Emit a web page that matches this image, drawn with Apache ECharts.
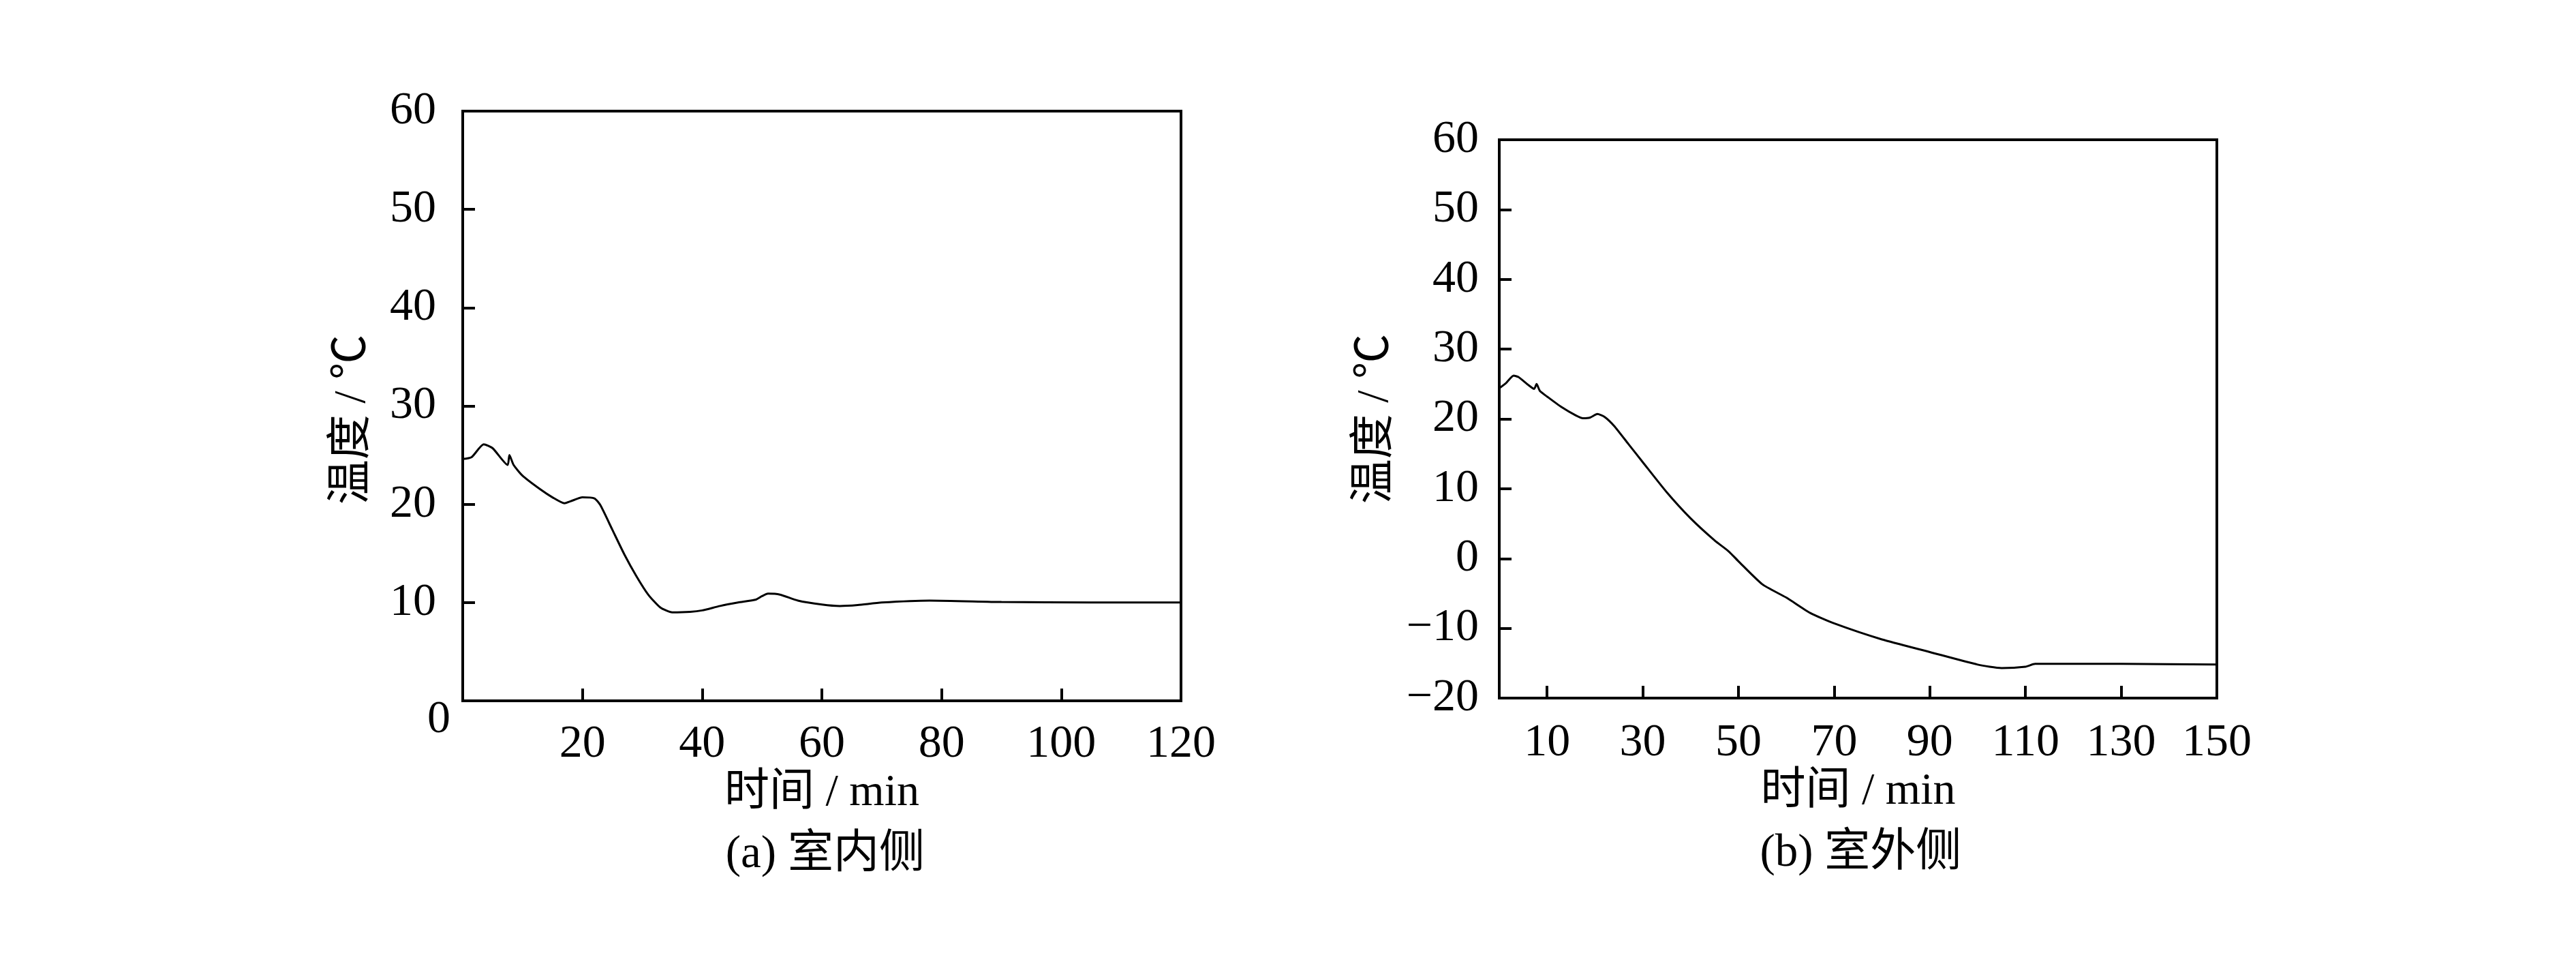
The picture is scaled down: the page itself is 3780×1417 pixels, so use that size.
<!DOCTYPE html>
<html>
<head>
<meta charset="utf-8">
<script src="https://cdn.jsdelivr.net/npm/echarts@6/dist/echarts.min.js"></script>
<style>html,body{margin:0;padding:0;background:#fff;}#c{width:3780px;height:1417px;}</style>
</head>
<body>
<div id="c"></div>
<script>
// (a) indoor side
const indoorTime = [0,1.5,3.5,5,7.5,7.8,8.5,10,13,15,17,18,20,22,23,25,27,29,31,33,35,38,40,43,46,49,50,51,53,56,60,63,66,70,78,90,105,120];
const indoorTemp = [24.6,24.8,26.1,25.7,24.0,25.0,24.0,22.9,21.5,20.7,20.1,20.3,20.7,20.6,19.9,17.4,14.9,12.7,10.8,9.5,9.0,9.05,9.2,9.65,10.0,10.3,10.65,10.9,10.8,10.2,9.8,9.65,9.75,10.0,10.2,10.05,10.0,10.0];
// (b) outdoor side
const outdoorTime = [0,1.5,3,4,6,7.3,7.8,8.5,10,13,16,17.5,19,20.5,22,24,27,30,35,40,45,48,50,55,60,65,70,80,90,100,105,110,112,115,130,150];
const outdoorTemp = [24.4,25.2,26.2,26.0,24.9,24.3,25.0,24.0,23.2,21.7,20.5,20.1,20.2,20.7,20.3,19.0,16.4,13.8,9.5,5.75,2.6,1.0,-0.4,-3.7,-5.6,-7.8,-9.3,-11.6,-13.4,-15.2,-15.7,-15.5,-15.1,-15.1,-15.1,-15.2];
// tick labels
const leftYTicks = [0,10,20,30,40,50,60];
const rightXLabels = [10,30,50,70,90,110,130,150];
const rightXTicks = [10,30,50,70,90,110,130,150];
const titles = ['(a) 室内侧','(b) 室外侧'];
const xName = '时间 / min';
const yName = '温度 / ℃';

const FONT = '"Liberation Serif","Times New Roman","Noto Sans CJK SC",serif';
const zip = (a,b) => a.map((v,i)=>[v,b[i]]);
const axisLine = {show:true, onZero:false, lineStyle:{color:'#000', width:4}};
const tick = {show:true, inside:true, length:18, lineStyle:{color:'#000', width:4}};
const lbl = {color:'#000', fontFamily:FONT, fontSize:68};
const nameStyle = {color:'#000', fontFamily:FONT, fontSize:66};

const chart = echarts.init(document.getElementById('c'));
chart.setOption({
  backgroundColor:'#fff',
  animation:false,
  title:[
    {text:titles[0], left:'31.9%', top:1216, textAlign:'center', textStyle:{color:'#000', fontFamily:FONT, fontSize:67, fontWeight:'normal'}},
    {text:titles[1], left:'72.1%', top:1214, textAlign:'center', textStyle:{color:'#000', fontFamily:FONT, fontSize:67, fontWeight:'normal'}}
  ],
  grid:[
    {left:679, top:163, width:1054, height:865, show:true, borderColor:'#000', borderWidth:4, backgroundColor:'transparent'},
    {left:2200, top:205, width:1053, height:819, show:true, borderColor:'#000', borderWidth:4, backgroundColor:'transparent'}
  ],
  xAxis:[
    {type:'value', gridIndex:0, min:0, max:120, interval:20, axisLine, axisTick:tick, splitLine:{show:false},
     axisLabel:Object.assign({margin:30, formatter:v=> v===0 ? '' : String(v)}, lbl),
     name:xName, nameLocation:'middle', nameGap:100, nameTextStyle:nameStyle},
    {type:'value', gridIndex:1, min:0, max:150, axisLine, splitLine:{show:false},
     axisTick:Object.assign({customValues:rightXTicks}, tick),
     axisLabel:Object.assign({margin:32, customValues:rightXLabels}, lbl),
     name:xName, nameLocation:'middle', nameGap:104, nameTextStyle:nameStyle}
  ],
  yAxis:[
    {type:'value', gridIndex:0, min:0, max:60, interval:10, axisLine, axisTick:tick, splitLine:{show:false},
     axisLabel:Object.assign({margin:18, showMinLabel:true,
       formatter:v=> leftYTicks.indexOf(v)===0 ? '{o|0}' : '{n|'+v+'}',
       rich:{n:{fontFamily:FONT, fontSize:68, color:'#000', padding:[0,21,0,0]},
             o:{fontFamily:FONT, fontSize:68, color:'#000', padding:[56,0,0,0]}}}, lbl),
     name:yName, nameLocation:'middle', nameGap:128, nameTextStyle:Object.assign({padding:[0,40,0,0]}, nameStyle)},
    {type:'value', gridIndex:1, min:-20, max:60, interval:10, axisLine, axisTick:tick, splitLine:{show:false},
     axisLabel:Object.assign({margin:30, formatter:v=> v<0 ? '\u2212'+Math.abs(v) : String(v)}, lbl),
     name:yName, nameLocation:'middle', nameGap:148, nameTextStyle:nameStyle}
  ],
  series:[
    {type:'line', xAxisIndex:0, yAxisIndex:0, data:zip(indoorTime, indoorTemp), showSymbol:false, smooth:0.2,
     lineStyle:{color:'#000', width:3}},
    {type:'line', xAxisIndex:1, yAxisIndex:1, data:zip(outdoorTime, outdoorTemp), showSymbol:false, smooth:0.2,
     lineStyle:{color:'#000', width:3}}
  ]
});
</script>
</body>
</html>
